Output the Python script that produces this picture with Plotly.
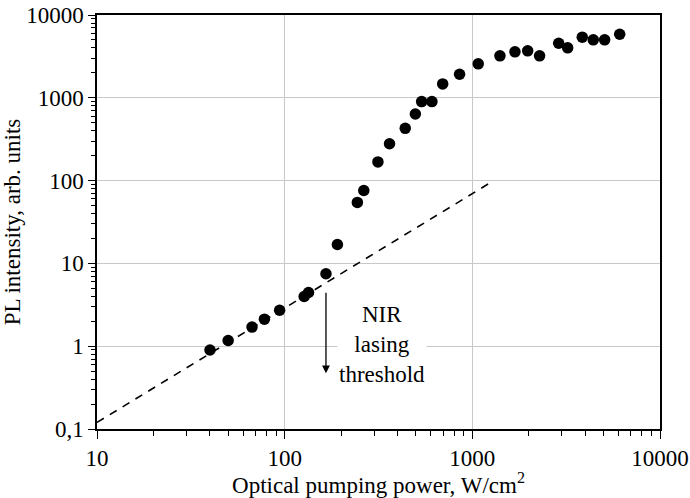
import math
import plotly.graph_objects as go

power = [40, 50, 67, 78, 94, 127, 134, 166, 191, 244, 264, 314, 362, 439, 497, 537, 609,
         695, 855, 1075, 1403, 1687, 1972, 2282, 2885, 3221, 3853, 4410, 5070, 6100]
intensity = [0.90, 1.17, 1.70, 2.12, 2.72, 3.98, 4.45, 7.5, 16.9, 54.5, 76, 168, 279, 428, 638,
             900, 900, 1472, 1924, 2570, 3214, 3590, 3690, 3214, 4560, 4010, 5400, 5010, 5010, 5860]

# Linear (spontaneous) fit line
fit_x = [10, 1300]
fit_y = [0.12, 100]

# Threshold arrow
thr_x = 166
thr_tail = 4.6
thr_tip = 0.47

x_tickvals = [10, 100, 1000, 10000]
x_ticktext = ["10", "100", "1000", "10000"]
y_tickvals = [0.1, 1, 10, 100, 1000, 10000]
y_ticktext = ["0,1", "1", "10", "100", "1000", "10000"]

x_minor = [m * d for d in [10, 100, 1000] for m in range(2, 10)]
y_minor = [m * d for d in [0.1, 1, 10, 100, 1000] for m in range(2, 10)]

FONT = "Liberation Serif, Times New Roman, serif"

fig = go.Figure()
fig.add_trace(go.Scatter(x=fit_x, y=fit_y, mode="lines",
                         line=dict(color="black", width=1.6, dash="8px,7px"),
                         showlegend=False, hoverinfo="skip"))
fig.add_trace(go.Scatter(x=power, y=intensity, mode="markers",
                         marker=dict(color="black", size=11.5),
                         showlegend=False))

fig.add_annotation(x=math.log10(thr_x), y=math.log10(thr_tip),
                   ax=math.log10(thr_x), ay=math.log10(thr_tail),
                   xref="x", yref="y", axref="x", ayref="y",
                   text="", showarrow=True, arrowhead=2, arrowsize=1.2,
                   arrowwidth=1.3, arrowcolor="black")
fig.add_annotation(x=math.log10(329), y=math.log10(1.04), xref="x", yref="y",
                   text="NIR<br>lasing<br>threshold", showarrow=False,
                   font=dict(family=FONT, size=23, color="black"),
                   bgcolor="white", align="center")

axis_common = dict(
    type="log", showline=True, linecolor="black", linewidth=1.5, mirror=True,
    ticks="outside", tickcolor="black", tickwidth=1.3,
    showgrid=True, gridcolor="#c8c8c8", gridwidth=1,
    zeroline=False, automargin=False,
    tickfont=dict(family=FONT, size=23, color="black"),
)

fig.update_xaxes(**axis_common, range=[1, 4], tickvals=x_tickvals, ticktext=x_ticktext,
                 ticklen=8,
                 minor=dict(tickmode="array", tickvals=x_minor, ticks="outside", ticklen=5,
                            tickcolor="black", tickwidth=1, showgrid=False),
                 title=dict(text="Optical pumping power, W/cm<sup>2</sup>",
                            font=dict(family=FONT, size=23, color="black"), standoff=5))
fig.update_yaxes(**axis_common, range=[-1, 4], tickvals=y_tickvals, ticktext=y_ticktext,
                 ticklen=7,
                 minor=dict(tickmode="array", tickvals=y_minor, ticks="outside", ticklen=4,
                            tickcolor="black", tickwidth=1, showgrid=False),
                 title=dict(text="PL intensity, arb. units",
                            font=dict(family=FONT, size=23, color="black"), standoff=4))

fig.update_layout(width=690, height=498, margin=dict(l=97, r=30, t=15, b=69),
                  plot_bgcolor="white", paper_bgcolor="white",
                  font=dict(family=FONT, size=23, color="black"))

fig.write_html("out.html", config={"displayModeBar": False},
               post_script="document.body.style.margin='0';document.body.style.overflow='hidden';")
